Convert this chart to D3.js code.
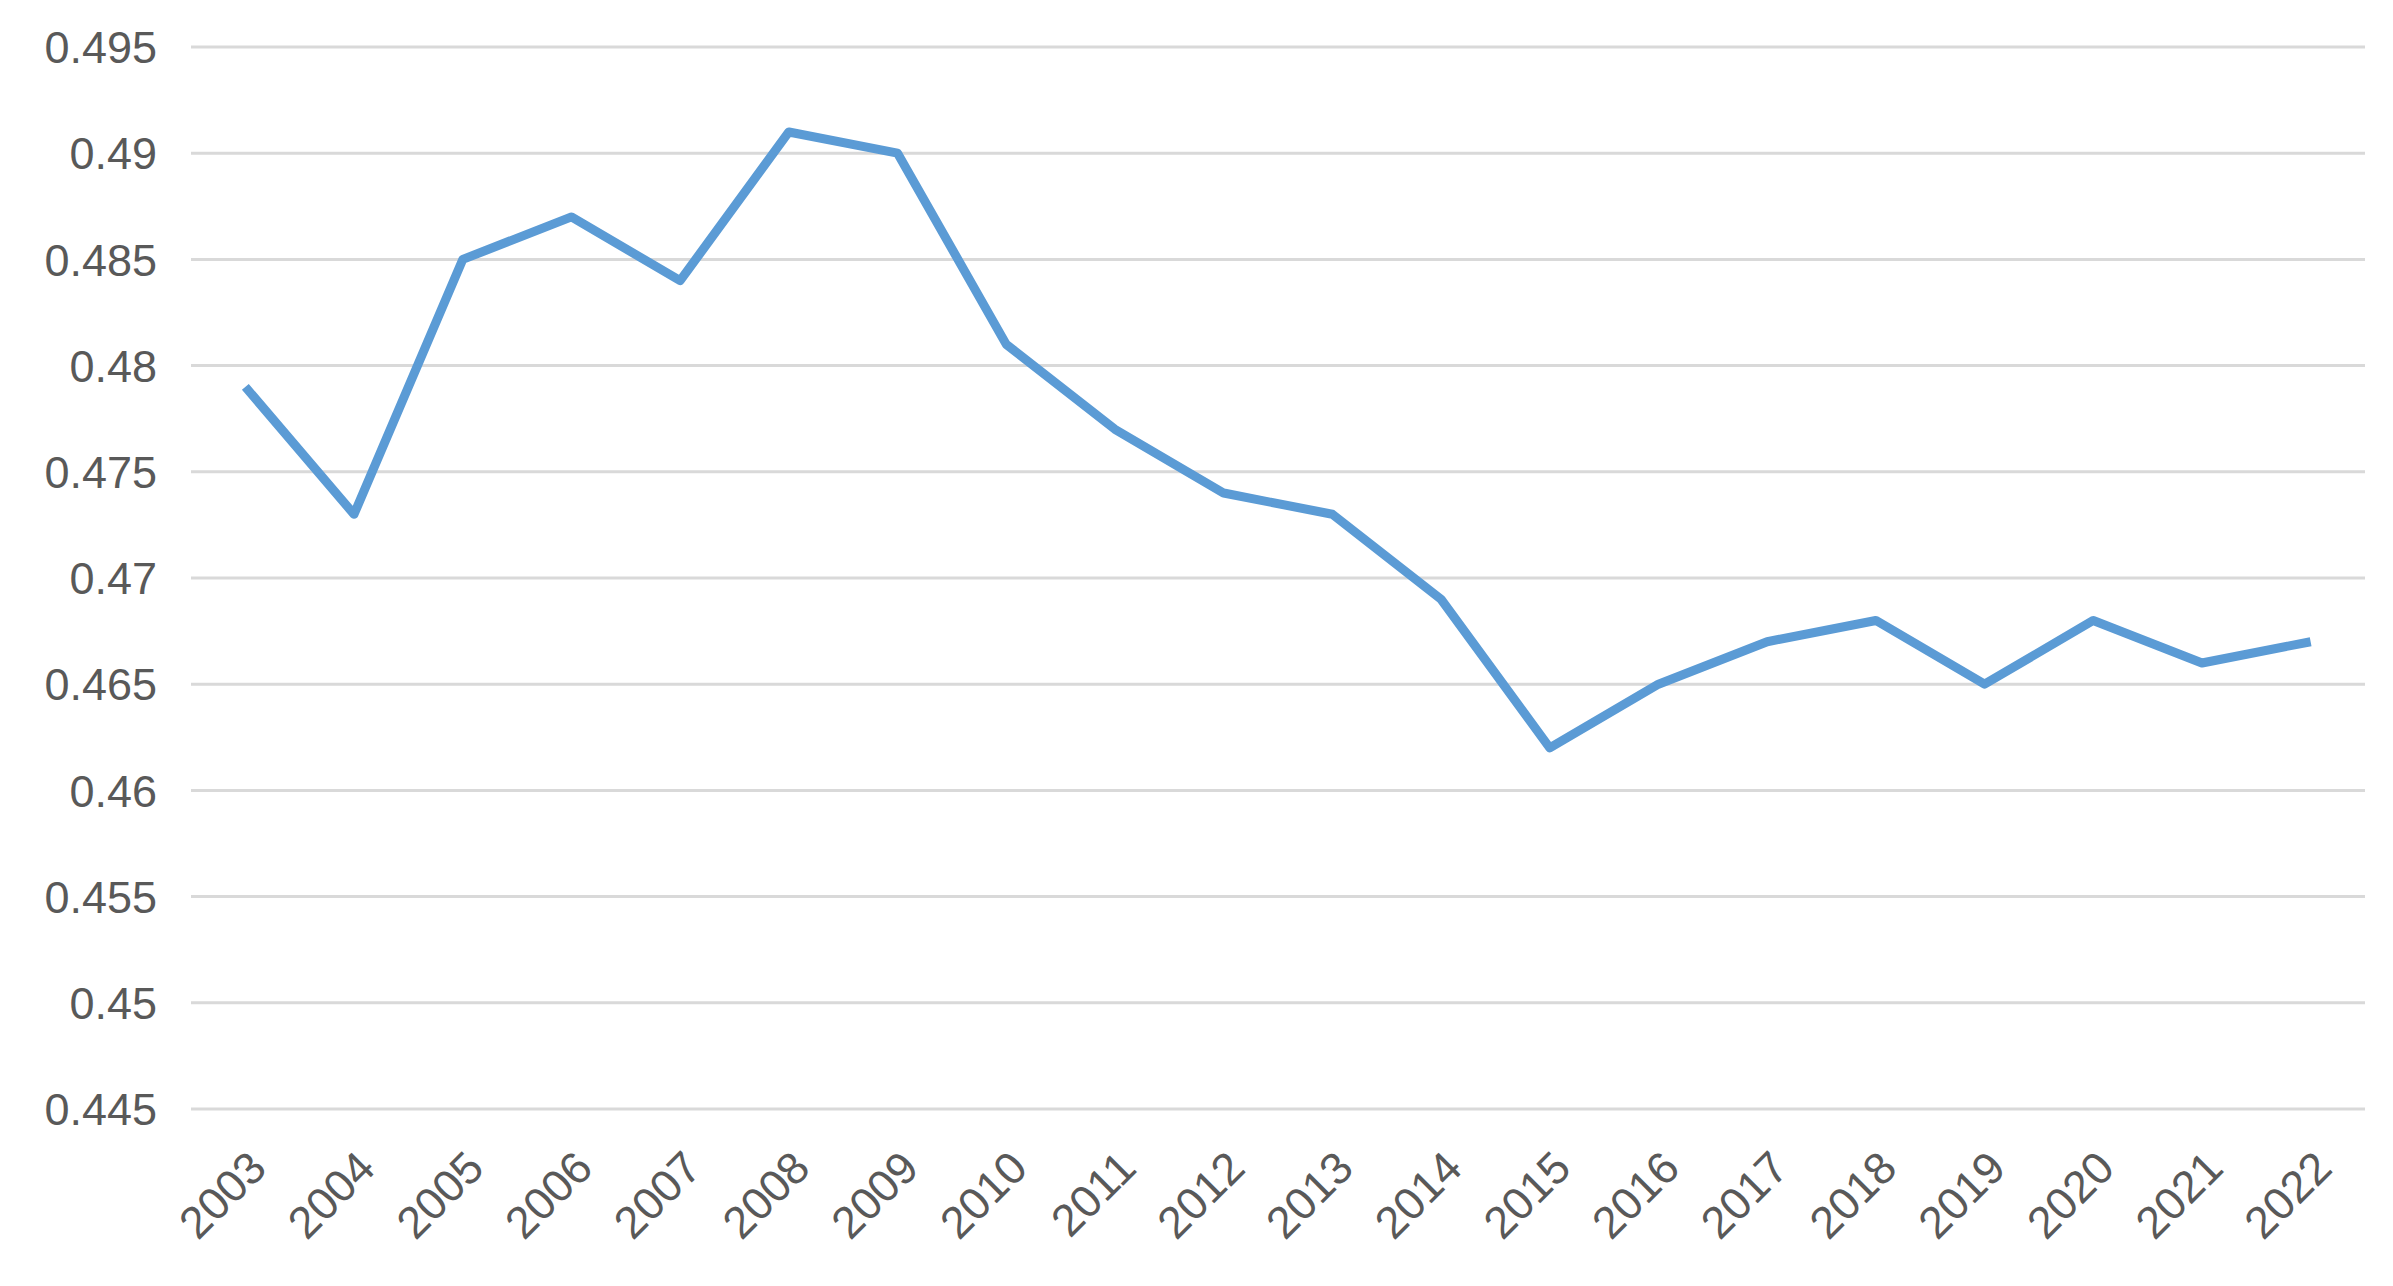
<!DOCTYPE html>
<html><head><meta charset="utf-8">
<script src="https://cdn.jsdelivr.net/npm/d3@7"></script>
<style>body{margin:0;background:#fff}</style>
</head><body>
<svg id="chart" width="2393" height="1286"></svg>
<script>
const years = ["2003","2004","2005","2006","2007","2008","2009","2010","2011","2012","2013","2014","2015","2016","2017","2018","2019","2020","2021","2022"]
const values = [0.479,0.473,0.485,0.487,0.484,0.491,0.490,0.481,0.477,0.474,0.473,0.469,0.462,0.465,0.467,0.468,0.465,0.468,0.466,0.467]
const yTicks = [0.445,0.45,0.455,0.46,0.465,0.47,0.475,0.48,0.485,0.49,0.495]

const svg = d3.select("#chart")
const plotLeft = 191, plotRight = 2365, plotTop = 47, plotBottom = 1109

let x = d3.scalePoint().domain(years).range([plotLeft, plotRight]).padding(0.5)
let y = d3.scaleLinear().domain([0.445, 0.495]).range([plotBottom, plotTop])

// grid
svg.append("g").selectAll("line").data(yTicks).join("line")
	.attr("x1", plotLeft).attr("x2", plotRight)
	.attr("y1", d => y(d)).attr("y2", d => y(d))
	.attr("stroke", "#d9d9d9").attr("stroke-width", 3)

// y labels
svg.append("g").selectAll("text").data(yTicks).join("text")
	.attr("x", 157).attr("y", d => y(d))
	.attr("dy", "0.36em")
	.attr("text-anchor", "end")
	.attr("font-family", "Liberation Sans, Arial, sans-serif")
	.attr("font-size", 45).attr("fill", "#595959")
	.text(d => String(+d.toFixed(3)))

// x labels
svg.append("g").selectAll("text").data(years).join("text")
	.attr("transform", d => `translate(${x(d) + 12},${plotBottom + 50}) rotate(-45)`)
	.attr("text-anchor", "end")
	.attr("dy", "0.36em")
	.attr("font-family", "Liberation Sans, Arial, sans-serif")
	.attr("font-size", 45).attr("fill", "#595959")
	.text(d => d)

// line
let line = d3.line().x((d, i) => x(years[i])).y(d => y(d))
svg.append("path").datum(values)
	.attr("d", line)
	.attr("fill", "none")
	.attr("stroke", "#5b9bd5")
	.attr("stroke-width", 9)
	.attr("stroke-linejoin", "round")
</script>
</body></html>
